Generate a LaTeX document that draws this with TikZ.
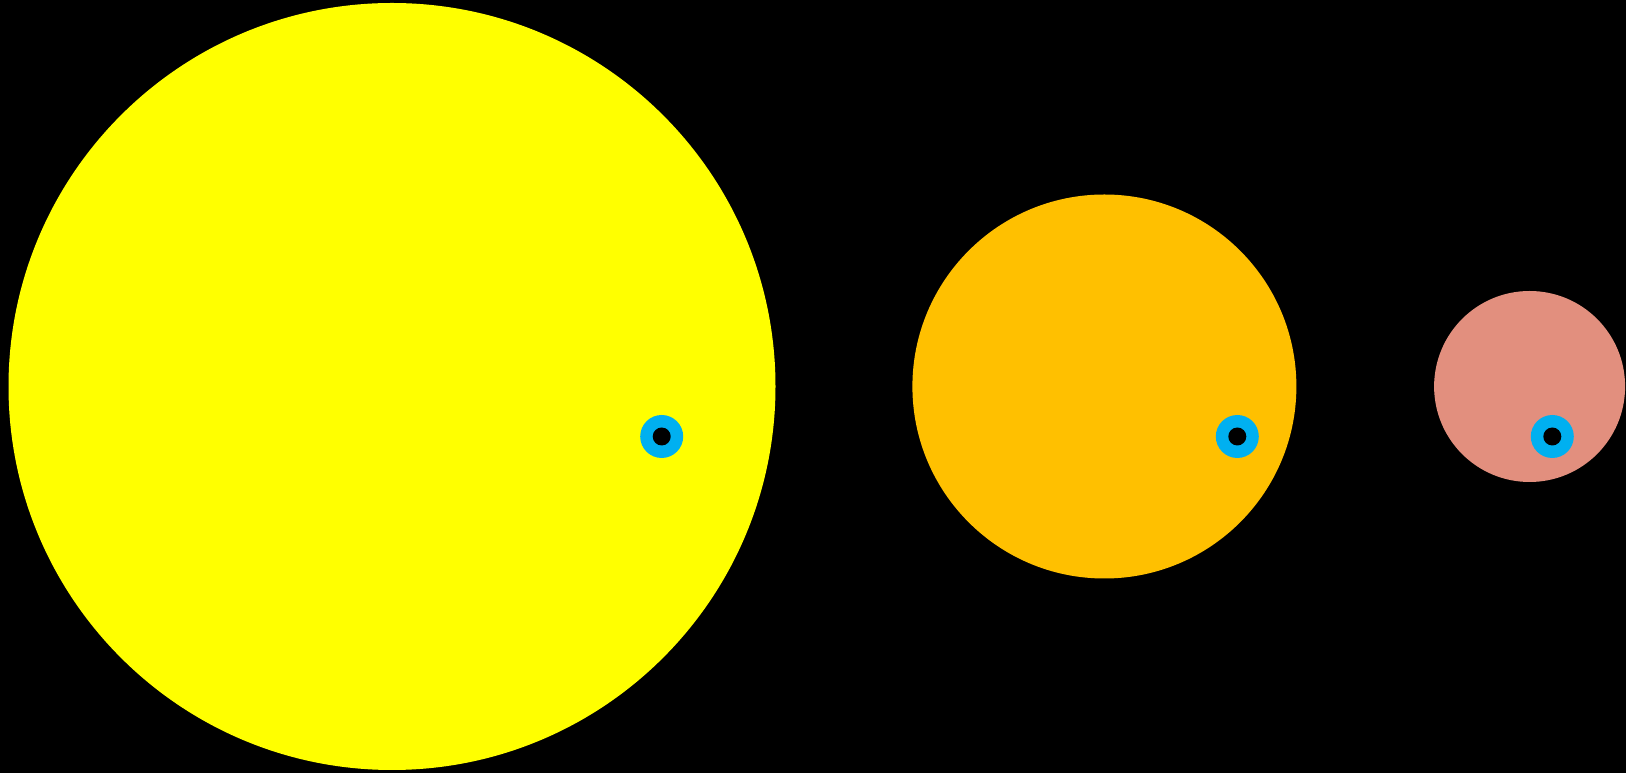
\documentclass[tikz,border=0pt]{standalone}
\usetikzlibrary{positioning}

\definecolor{sunyellow}{HTML}{FFFF00}
\definecolor{kstar}{HTML}{FFC000}
\definecolor{mdwarf}{HTML}{E28F7E}
\definecolor{planetblue}{HTML}{00B0F0}

\begin{document}
\begin{tikzpicture}[
    x=1pt, y=1pt,
    star/.style={circle, inner sep=0pt, draw=none},
    planet/.style={circle, inner sep=0pt, minimum size=43pt, fill=planetblue},
    core/.style={circle, inner sep=0pt, minimum size=18pt, fill=black}
  ]

  % --- background, fixes the page size ---
  \fill[black] (0,0) rectangle (1626,773);
  \useasboundingbox (0,0) rectangle (1626,773);

  % --- stars ---
  \node[star, fill=sunyellow, minimum size=767pt] (sun) at (392, 386.5) {};
  \node[star, fill=kstar, minimum size=384pt] (kdwarf) at (1104.4, 386.5) {};
  \node[star, fill=mdwarf, minimum size=191pt] (mstar) at (1529.6, 386.5) {};

  % --- transiting planets ---
  \node[planet] (p1) at (661.7, 336.5) {};
  \node[core] at (p1) {};
  \node[planet] (p2) at (1237.3, 336.5) {};
  \node[core] at (p2) {};
  \node[planet] (p3) at (1552.3, 336.5) {};
  \node[core] at (p3) {};

\end{tikzpicture}
\end{document}
